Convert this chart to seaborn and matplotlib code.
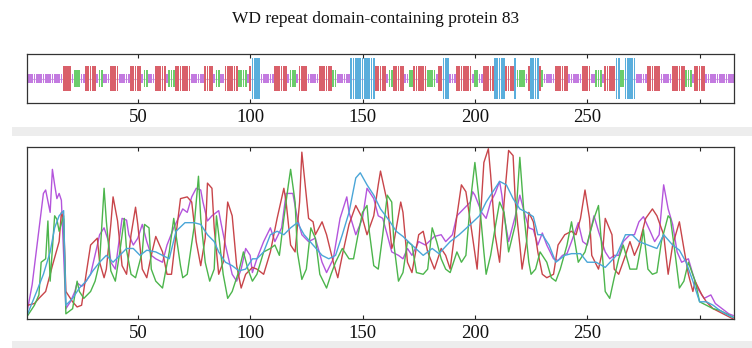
import numpy as np
import pandas as pd
import matplotlib
matplotlib.use("Agg")
import matplotlib.pyplot as plt
import seaborn as sns
from matplotlib.patches import Rectangle

# ---------------- data ----------------
title = "WD repeat domain-containing protein 83"
seq_len = 315
tick_pos = [50, 100, 150, 200, 250, 300]
tick_lbl = ["50", "100", "150", "200", "250", ""]

# secondary structure runs (state, length): h helix, e strand, t turn, c coil
ss_runs = [("c", 16), ("e", 4), ("c", 1), ("t", 3), ("c", 2), ("e", 5), ("c", 1), ("t", 2),
           ("c", 3), ("e", 4), ("c", 5), ("e", 5), ("c", 1), ("t", 2), ("c", 3), ("e", 5),
           ("c", 1), ("t", 3), ("e", 7), ("c", 6), ("e", 4), ("c", 1), ("t", 2), ("c", 2),
           ("e", 6), ("t", 4), ("c", 1), ("e", 1), ("h", 4), ("c", 6), ("e", 6), ("c", 1),
           ("t", 3), ("c", 1), ("e", 4), ("c", 5), ("e", 6), ("t", 2), ("c", 6), ("h", 11),
           ("e", 5), ("c", 1), ("t", 2), ("e", 5), ("c", 2), ("t", 2), ("e", 6), ("t", 4),
           ("c", 1), ("e", 2), ("h", 3), ("c", 3), ("e", 7), ("c", 1), ("t", 2), ("c", 2),
           ("e", 5), ("h", 5), ("e", 4), ("h", 1), ("t", 4), ("c", 1), ("e", 1), ("h", 4),
           ("e", 1), ("t", 1), ("c", 5), ("e", 6), ("c", 6), ("e", 4), ("c", 2), ("t", 3),
           ("c", 1), ("e", 5), ("h", 2), ("t", 2), ("h", 5), ("c", 5), ("e", 6), ("c", 5),
           ("e", 6), ("t", 3), ("c", 1), ("e", 5), ("c", 13)]

# score curves (residue, value)
purple_x = [1, 3, 8, 9, 11, 12, 13, 14, 15, 16, 18, 20, 22, 23, 25, 26, 29, 32, 33, 35, 37, 38, 40,
            43, 45, 46, 48, 50, 52, 54, 56, 58, 61, 63, 66, 68, 70, 72, 74, 76, 78, 79, 81, 83, 86, 87,
            89, 92, 94, 96, 98, 100, 101, 103, 106, 109, 111, 114, 116, 119, 121, 123, 126, 129, 132, 134,
            137, 140, 143, 144, 147, 150, 152, 155, 157, 159, 161, 163, 166, 168, 170, 172, 175, 178, 182,
            185, 187, 190, 192, 195, 198, 199, 200, 203, 205, 207, 209, 211, 212, 213, 215, 218, 220, 222,
            224, 226, 228, 230, 232, 235, 237, 239, 241, 243, 246, 248, 250, 253, 255, 258, 260, 262, 264,
            266, 269, 271, 273, 275, 278, 280, 282, 284, 286, 288, 290, 292, 295, 297, 299, 302, 305, 307,
            310, 313, 315]
purple_y = [0.06, 0.20, 0.73, 0.75, 0.62, 0.87, 0.78, 0.70, 0.73, 0.69, 0.06, 0.10, 0.16, 0.21, 0.19,
            0.20, 0.26, 0.43, 0.49, 0.53, 0.45, 0.33, 0.29, 0.585, 0.575, 0.49, 0.43, 0.47, 0.55, 0.45,
            0.37, 0.35, 0.33, 0.43, 0.53, 0.585, 0.64, 0.62, 0.71, 0.76, 0.75, 0.68, 0.57, 0.60, 0.63,
            0.56, 0.43, 0.26, 0.22, 0.29, 0.41, 0.37, 0.27, 0.35, 0.45, 0.53, 0.45, 0.53, 0.73, 0.73,
            0.585, 0.49, 0.45, 0.47, 0.33, 0.27, 0.35, 0.585, 0.71, 0.62, 0.49, 0.585, 0.76, 0.70, 0.60,
            0.585, 0.49, 0.39, 0.37, 0.35, 0.41, 0.37, 0.45, 0.43, 0.48, 0.49, 0.45, 0.49, 0.60, 0.64,
            0.68, 0.74, 0.72, 0.62, 0.585, 0.68, 0.73, 0.80, 0.72, 0.60, 0.45, 0.60, 0.72, 0.62, 0.53,
            0.52, 0.43, 0.50, 0.43, 0.35, 0.34, 0.37, 0.38, 0.45, 0.56, 0.45, 0.43, 0.60, 0.51, 0.39,
            0.35, 0.37, 0.37, 0.45, 0.49, 0.49, 0.565, 0.595, 0.51, 0.45, 0.49, 0.78, 0.64, 0.55, 0.39,
            0.33, 0.35, 0.26, 0.18, 0.12, 0.14, 0.09, 0.06, 0.03, 0.02]

red_x = [1, 4, 6, 9, 11, 12, 15, 16, 17, 18, 21, 23, 25, 27, 29, 32, 33, 35, 36, 38, 39, 41, 43, 45, 47,
         49, 50, 52, 54, 56, 58, 61, 63, 65, 67, 69, 72, 74, 76, 78, 80, 81, 83, 84, 86, 88, 90, 92, 94,
         96, 98, 101, 103, 106, 109, 112, 115, 116, 118, 120, 122, 123, 124, 126, 128, 129, 132, 134,
         137, 139, 141, 144, 147, 150, 152, 155, 157, 158, 161, 163, 164, 167, 168, 170, 172, 175, 177,
         179, 182, 185, 187, 189, 192, 194, 196, 198, 201, 202, 204, 206, 207, 209, 211, 213, 215, 217,
         218, 220, 221, 223, 224, 226, 228, 230, 232, 235, 237, 240, 243, 245, 247, 249, 251, 252, 255,
         257, 258, 261, 262, 264, 267, 269, 271, 273, 276, 279, 281, 284, 286, 288, 291, 293, 295, 297,
         298, 301, 303, 306, 309, 312, 315]
red_y = [0.08, 0.09, 0.12, 0.16, 0.26, 0.31, 0.45, 0.62, 0.58, 0.16, 0.10, 0.07, 0.08, 0.26, 0.43, 0.47,
         0.33, 0.24, 0.29, 0.55, 0.71, 0.57, 0.31, 0.26, 0.49, 0.65, 0.55, 0.29, 0.24, 0.37, 0.48, 0.39,
         0.26, 0.26, 0.49, 0.70, 0.71, 0.68, 0.45, 0.31, 0.47, 0.79, 0.76, 0.53, 0.26, 0.33, 0.68, 0.60,
         0.31, 0.18, 0.26, 0.30, 0.29, 0.26, 0.39, 0.585, 0.76, 0.68, 0.43, 0.39, 0.68, 0.97, 0.84, 0.585,
         0.565, 0.49, 0.565, 0.49, 0.33, 0.24, 0.37, 0.55, 0.66, 0.585, 0.49, 0.60, 0.78, 0.86, 0.68,
         0.41, 0.45, 0.68, 0.62, 0.33, 0.27, 0.49, 0.51, 0.39, 0.29, 0.41, 0.37, 0.29, 0.60, 0.78, 0.74,
         0.565, 0.29, 0.49, 0.91, 0.99, 0.84, 0.49, 0.33, 0.68, 0.98, 0.95, 0.68, 0.43, 0.29, 0.45, 0.62,
         0.565, 0.39, 0.26, 0.24, 0.26, 0.43, 0.49, 0.51, 0.49, 0.585, 0.75, 0.585, 0.37, 0.29, 0.41,
         0.585, 0.49, 0.29, 0.26, 0.37, 0.45, 0.37, 0.43, 0.585, 0.64, 0.60, 0.49, 0.26, 0.43, 0.565,
         0.41, 0.26, 0.16, 0.22, 0.14, 0.10, 0.06, 0.04, 0.02, 0.00]

green_x = [1, 4, 6, 7, 9, 10, 11, 13, 14, 15, 17, 18, 21, 23, 24, 26, 29, 31, 33, 35, 36, 38, 40, 42,
           44, 45, 47, 49, 52, 53, 55, 56, 58, 61, 64, 66, 67, 69, 70, 72, 75, 77, 78, 80, 82, 84, 85,
           86, 88, 90, 92, 95, 97, 99, 101, 103, 106, 109, 111, 113, 115, 117, 118, 120, 121, 123, 125,
           127, 129, 131, 134, 136, 138, 141, 144, 146, 148, 150, 152, 153, 155, 157, 159, 161, 163, 164,
           166, 168, 170, 172, 174, 177, 179, 181, 183, 185, 187, 189, 192, 194, 196, 198, 200, 202, 204,
           205, 207, 209, 211, 213, 215, 218, 220, 222, 224, 225, 227, 229, 232, 234, 236, 238, 241, 243,
           246, 249, 251, 253, 255, 257, 258, 260, 262, 264, 266, 269, 272, 274, 275, 277, 279, 281, 283,
           286, 287, 289, 291, 293, 295, 298, 300, 303, 306, 309, 312, 315]
green_y = [0.02, 0.08, 0.14, 0.33, 0.35, 0.57, 0.22, 0.60, 0.58, 0.51, 0.60, 0.03, 0.06, 0.22, 0.16,
           0.12, 0.16, 0.22, 0.33, 0.76, 0.57, 0.28, 0.22, 0.39, 0.585, 0.40, 0.26, 0.24, 0.39, 0.55,
           0.53, 0.29, 0.22, 0.18, 0.39, 0.585, 0.49, 0.31, 0.24, 0.26, 0.53, 0.83, 0.585, 0.33, 0.22,
           0.29, 0.60, 0.49, 0.26, 0.12, 0.16, 0.28, 0.39, 0.29, 0.22, 0.26, 0.39, 0.41, 0.43, 0.37,
           0.585, 0.78, 0.87, 0.68, 0.39, 0.23, 0.29, 0.53, 0.47, 0.26, 0.18, 0.26, 0.33, 0.41, 0.35,
           0.35, 0.49, 0.62, 0.66, 0.51, 0.31, 0.29, 0.49, 0.72, 0.68, 0.43, 0.22, 0.27, 0.45, 0.43,
           0.27, 0.26, 0.29, 0.53, 0.45, 0.35, 0.29, 0.27, 0.39, 0.33, 0.37, 0.68, 0.91, 0.68, 0.39,
           0.26, 0.37, 0.53, 0.68, 0.62, 0.39, 0.55, 0.94, 0.585, 0.33, 0.26, 0.29, 0.39, 0.33, 0.24,
           0.22, 0.29, 0.43, 0.565, 0.33, 0.39, 0.49, 0.585, 0.66, 0.33, 0.16, 0.12, 0.24, 0.35, 0.43,
           0.29, 0.29, 0.43, 0.52, 0.29, 0.26, 0.27, 0.45, 0.60, 0.585, 0.39, 0.18, 0.22, 0.33, 0.22,
           0.10, 0.08, 0.06, 0.05, 0.03, 0.01]

blue_x = [1, 5, 8, 11, 13, 15, 17, 18, 21, 24, 27, 30, 33, 36, 39, 42, 45, 48, 51, 54, 58, 61, 64, 67,
          71, 75, 78, 81, 84, 86, 89, 92, 95, 98, 101, 103, 106, 109, 112, 115, 118, 121, 124, 128, 132,
          135, 138, 141, 144, 147, 149, 152, 155, 158, 162, 165, 168, 172, 177, 181, 184, 189, 193, 198,
          202, 205, 208, 211, 214, 217, 220, 223, 226, 228, 230, 233, 236, 240, 243, 247, 250, 254, 258,
          263, 267, 270, 273, 277, 281, 284, 288, 291, 294, 297, 300, 303, 306, 309, 313, 315]
blue_y = [0.03, 0.16, 0.26, 0.39, 0.53, 0.60, 0.63, 0.08, 0.12, 0.18, 0.22, 0.28, 0.33, 0.37, 0.33,
          0.37, 0.41, 0.41, 0.37, 0.40, 0.39, 0.37, 0.35, 0.51, 0.56, 0.56, 0.55, 0.49, 0.45, 0.39,
          0.33, 0.31, 0.28, 0.29, 0.35, 0.35, 0.39, 0.49, 0.51, 0.49, 0.53, 0.56, 0.49, 0.43, 0.37,
          0.35, 0.37, 0.49, 0.62, 0.82, 0.85, 0.78, 0.72, 0.64, 0.57, 0.51, 0.48, 0.43, 0.37, 0.41,
          0.38, 0.45, 0.49, 0.55, 0.60, 0.68, 0.74, 0.80, 0.78, 0.70, 0.64, 0.62, 0.595, 0.49, 0.49,
          0.43, 0.33, 0.37, 0.38, 0.38, 0.33, 0.33, 0.30, 0.37, 0.49, 0.49, 0.45, 0.43, 0.41, 0.49,
          0.43, 0.40, 0.33, 0.22, 0.10, 0.10, 0.08, 0.05, 0.02, 0.01]

# ---------------- style ----------------
sns.set_theme(style="white")
plt.rcParams["font.family"] = ["Liberation Serif", "DejaVu Serif"]

bar_cols = {"h": "#5aaedc", "e": "#d9606a", "t": "#6bcd6b", "c": "#c37ae0"}
bar_half = {"h": 0.83, "e": 0.52, "t": 0.34, "c": 0.20}
line_cols = {"purple": "#b455dc", "red": "#c8454a", "green": "#4cb54c", "blue": "#4aa6d8"}

W, H = 752, 348
fig = plt.figure(figsize=(W / 100, H / 100), dpi=100)

# grey bands of the original page
fig.patches.append(Rectangle((12 / W, 1 - 136 / H), 1, 9 / H, transform=fig.transFigure,
                             facecolor="#ededed", edgecolor="none", zorder=0))
fig.patches.append(Rectangle((12 / W, 0), 1, 7 / H, transform=fig.transFigure,
                             facecolor="#ededed", edgecolor="none", zorder=0))

fig.text(0.5, 1 - 19 / H, title, ha="center", va="center", fontsize=12.5, color="#111111")

# ---- top panel: secondary structure ----
ax1 = fig.add_axes([27 / W, 1 - 103 / H, 707 / W, 49 / H])
ss = "".join(s * n for s, n in ss_runs)
res = np.arange(1, len(ss) + 1)
heights = np.array([bar_half[s] for s in ss])
cols = [bar_cols[s] for s in ss]
ax1.axhline(0, color="#d4b0e4", linewidth=0.8, zorder=0)
ax1.bar(res, 2 * heights, bottom=-heights, width=0.78, color=cols, linewidth=0)
ax1.set_xlim(0.7, seq_len + 0.3)
ax1.set_ylim(-1, 1)

# ---- bottom panel: score curves ----
ax2 = fig.add_axes([27 / W, 1 - 319 / H, 707 / W, 172 / H])
frames = []
for name, xs, ys in [("purple", purple_x, purple_y), ("red", red_x, red_y),
                     ("green", green_x, green_y), ("blue", blue_x, blue_y)]:
    frames.append(pd.DataFrame({"residue": xs, "score": ys, "state": name}))
df = pd.concat(frames, ignore_index=True)
sns.lineplot(data=df, x="residue", y="score", hue="state", palette=line_cols,
             estimator=None, sort=False, linewidth=1.0, legend=False, ax=ax2)
ax2.set_xlim(0.7, seq_len + 0.3)
ax2.set_ylim(0, 1.0)
ax2.set_xlabel("")
ax2.set_ylabel("")

for ax in (ax1, ax2):
    ax.set_xticks(tick_pos)
    ax.set_xticklabels(tick_lbl)
    ax.set_yticks([])
    ax.tick_params(axis="x", direction="in", length=3, width=0.8, color="#222222",
                   top=True, bottom=True, labelsize=13.5, pad=4, labelcolor="#111111")
    for sp in ax.spines.values():
        sp.set_color("#333333")
        sp.set_linewidth(0.9)
        sp.set_visible(True)

fig.savefig("out.png", dpi=100, facecolor="white")
